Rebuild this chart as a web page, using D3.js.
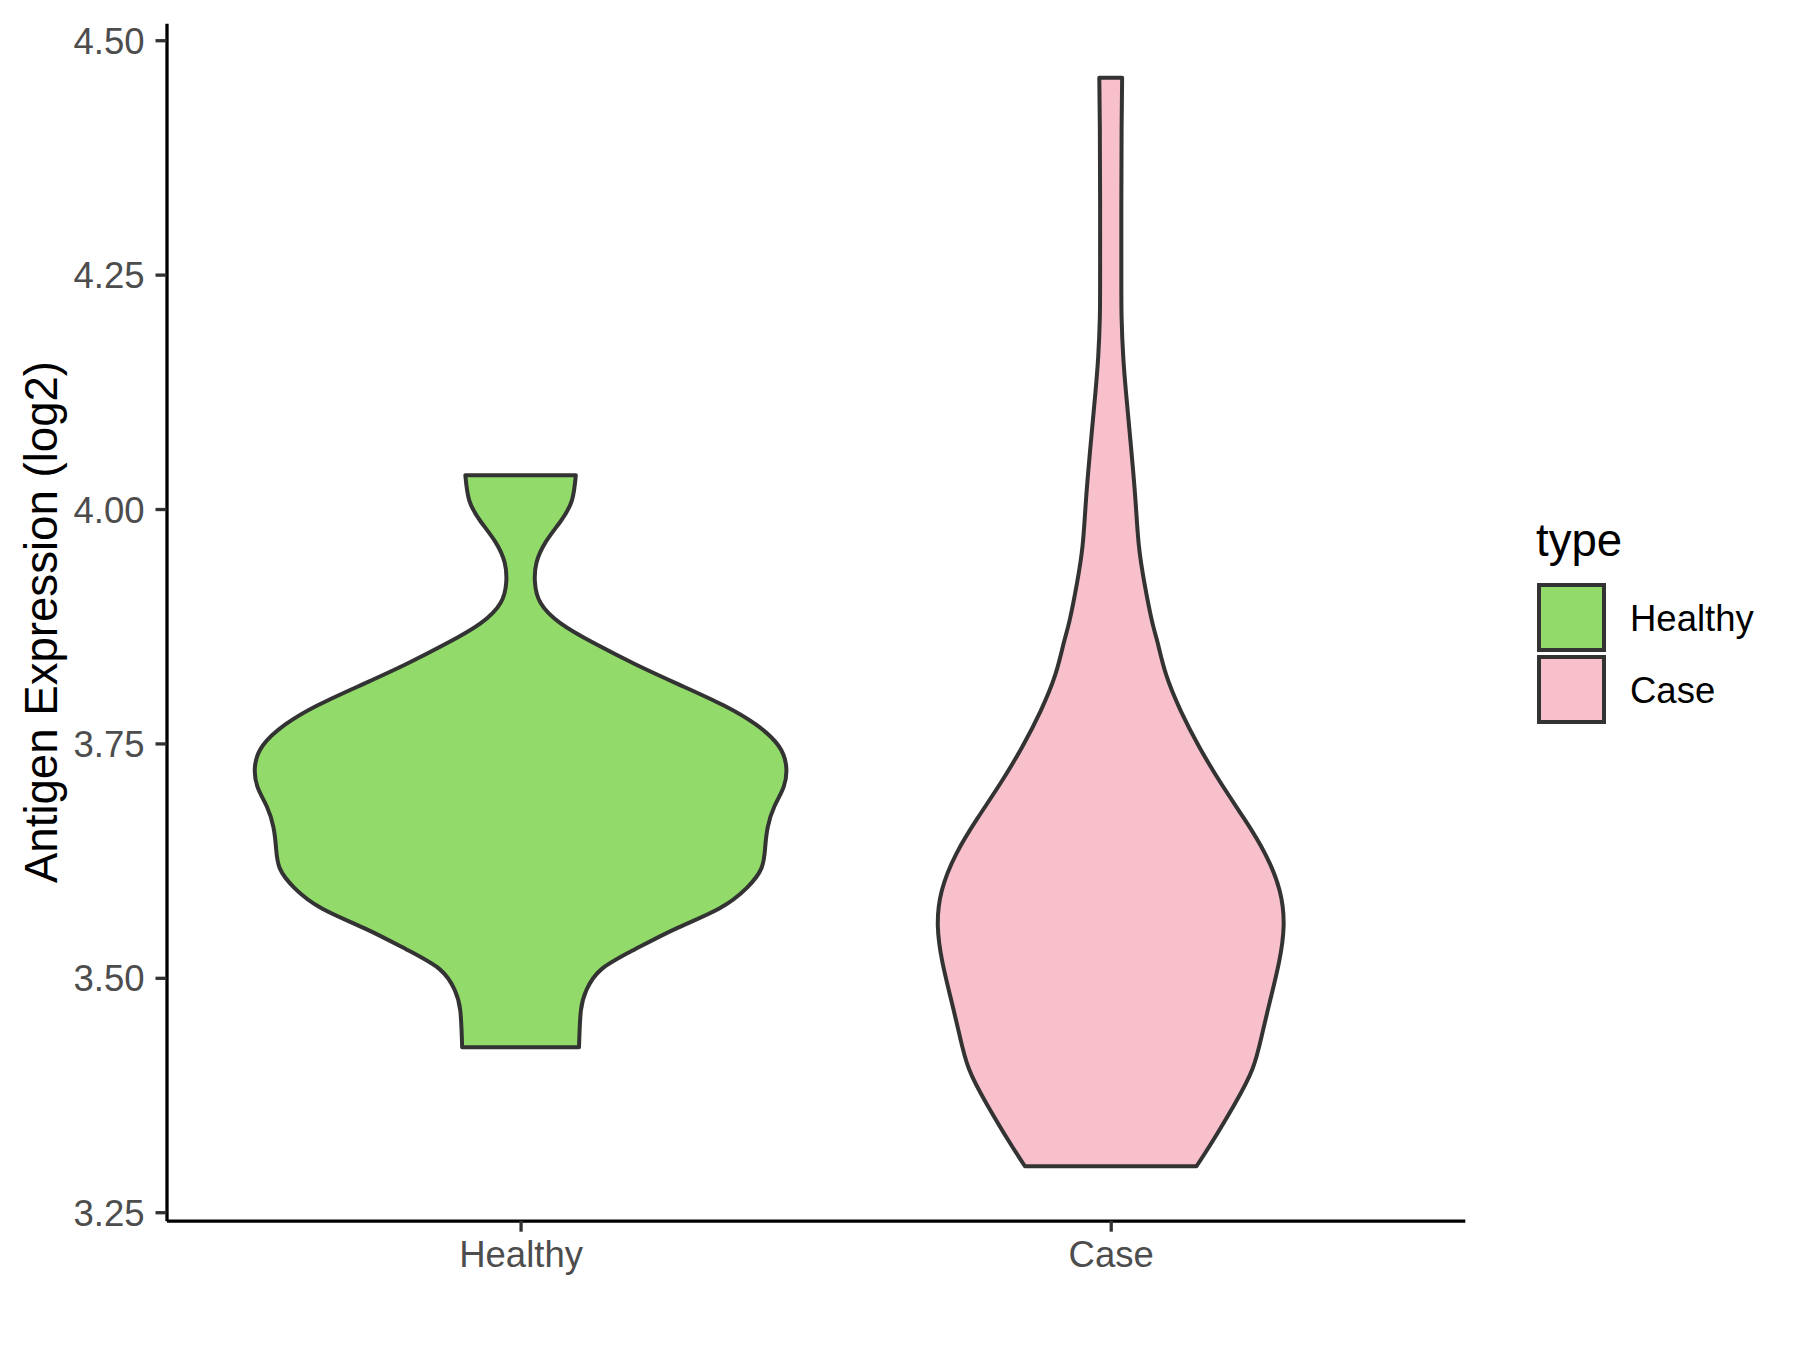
<!DOCTYPE html>
<html>
<head>
<meta charset="utf-8">
<script src="https://cdn.jsdelivr.net/npm/d3@7"></script>
<style>
  html, body { margin: 0; padding: 0; background: #fff; }
  svg { display: block; }
  text { font-family: "Liberation Sans", Arial, sans-serif; }
</style>
</head>
<body>
<svg id="chart" width="1800" height="1350"></svg>
<script>
// ---------------- data ----------------
const categories = ["Healthy", "Case"];
const fillColors = ["#92DB6A", "#F7C0CB"];
const yTicks = [3.25, 3.50, 3.75, 4.00, 4.25, 4.50];
const yTitle = "Antigen Expression (log2)";
const legendTitle = "type";

// violin density profiles (value, relative density)
const healthyValues = [4.036, 4.009, 3.987, 3.965, 3.943, 3.922, 3.900, 3.878, 3.857, 3.835,
  3.813, 3.791, 3.770, 3.748, 3.726, 3.704, 3.683, 3.661, 3.639, 3.617, 3.596, 3.574,
  3.552, 3.530, 3.509, 3.487, 3.465, 3.426];
const healthyDensity = [0.208, 0.193, 0.151, 0.095, 0.060, 0.054, 0.075, 0.151, 0.276, 0.428,
  0.595, 0.762, 0.887, 0.970, 1.000, 0.991, 0.956, 0.931, 0.921, 0.907, 0.852, 0.748,
  0.581, 0.428, 0.304, 0.248, 0.227, 0.220];

const caseValues = [4.460, 4.407, 4.326, 4.244, 4.204, 4.163, 4.123, 4.083, 4.042, 4.002,
  3.961, 3.921, 3.881, 3.857, 3.823, 3.784, 3.746, 3.708, 3.670, 3.632, 3.593, 3.555,
  3.517, 3.479, 3.441, 3.403, 3.365, 3.326, 3.299];
const caseDensity = [0.043, 0.041, 0.040, 0.040, 0.041, 0.047, 0.058, 0.071, 0.084, 0.095,
  0.106, 0.127, 0.155, 0.177, 0.209, 0.265, 0.334, 0.414, 0.502, 0.582, 0.636, 0.651,
  0.634, 0.603, 0.571, 0.534, 0.466, 0.384, 0.323];

const profiles = [
  healthyValues.map((v, i) => ({ v, d: healthyDensity[i] })),
  caseValues.map((v, i) => ({ v, d: caseDensity[i] }))
];

// ---------------- layout ----------------
const panel = { left: 166.5, right: 1464.8, top: 23.3, bottom: 1220.7 };
const svg = d3.select("#chart");

const allVals = healthyValues.concat(caseValues);
const vmin = d3.min(allVals), vmax = d3.max(allVals);
const pad = (vmax - vmin) * 0.05;
const y = d3.scaleLinear().domain([vmin - pad, vmax + pad]).range([panel.bottom, panel.top]);
const x = d3.scalePoint().domain(categories).range([panel.left, panel.right]).padding(0.6);

const maxD = d3.max(healthyDensity.concat(caseDensity));
const halfW = 0.45 * x.step();
const w = d3.scaleLinear().domain([0, maxD]).range([0, halfW]);

// ---------------- violins ----------------
const g = svg.append("g");
categories.forEach((cat, i) => {
  const cx = x(cat);
  const area = d3.area()
    .curve(d3.curveNatural)
    .y(d => y(d.v))
    .x0(d => cx - w(d.d))
    .x1(d => cx + w(d.d));
  g.append("path")
    .datum(profiles[i])
    .attr("d", area)
    .attr("fill", fillColors[i])
    .attr("stroke", "#333333")
    .attr("stroke-width", 4)
    .attr("stroke-linejoin", "round");
});

// ---------------- axes ----------------
const yAxis = d3.axisLeft(y).tickValues(yTicks).tickFormat(d3.format(".2f"))
  .tickSizeInner(11).tickSizeOuter(0).tickPadding(11);
const gy = svg.append("g").attr("transform", `translate(${panel.left},0)`).call(yAxis);
gy.select(".domain").attr("stroke", "#000").attr("stroke-width", 3.3);
gy.selectAll(".tick line").attr("stroke", "#333").attr("stroke-width", 3.3);
gy.selectAll(".tick text").attr("fill", "#4D4D4D").attr("font-size", 36.5)
  .attr("dy", "0.36em").style("font-family", "'Liberation Sans', Arial, sans-serif");

const xAxis = d3.axisBottom(x).tickSizeInner(11).tickSizeOuter(0).tickPadding(8);
const gx = svg.append("g").attr("transform", `translate(0,${panel.bottom})`).call(xAxis);
gx.select(".domain").attr("stroke", "#000").attr("stroke-width", 3.3);
gx.selectAll(".tick line").attr("stroke", "#333").attr("stroke-width", 3.3);
gx.selectAll(".tick text").attr("fill", "#4D4D4D").attr("font-size", 36.5)
  .attr("dy", null).attr("y", 46).style("font-family", "'Liberation Sans', Arial, sans-serif");

// y title
svg.append("text")
  .attr("transform", `translate(57,${(panel.top + panel.bottom) / 2}) rotate(-90)`)
  .attr("text-anchor", "middle")
  .attr("font-size", 45.6)
  .attr("fill", "#000")
  .text(yTitle);

// ---------------- legend ----------------
const lg = svg.append("g");
lg.append("text").attr("x", 1536).attr("y", 556).attr("font-size", 45.6).attr("fill", "#000").text(legendTitle);
const keyX = 1539, keyY0 = 585, keySize = 65, keyGap = 72;
categories.forEach((cat, i) => {
  lg.append("rect")
    .attr("x", keyX).attr("y", keyY0 + i * keyGap)
    .attr("width", keySize).attr("height", keySize)
    .attr("fill", fillColors[i]).attr("stroke", "#333").attr("stroke-width", 4);
  lg.append("text")
    .attr("x", 1630).attr("y", keyY0 + i * keyGap + keySize / 2 + 13)
    .attr("font-size", 36.5).attr("fill", "#000").text(cat);
});
</script>
</body>
</html>
